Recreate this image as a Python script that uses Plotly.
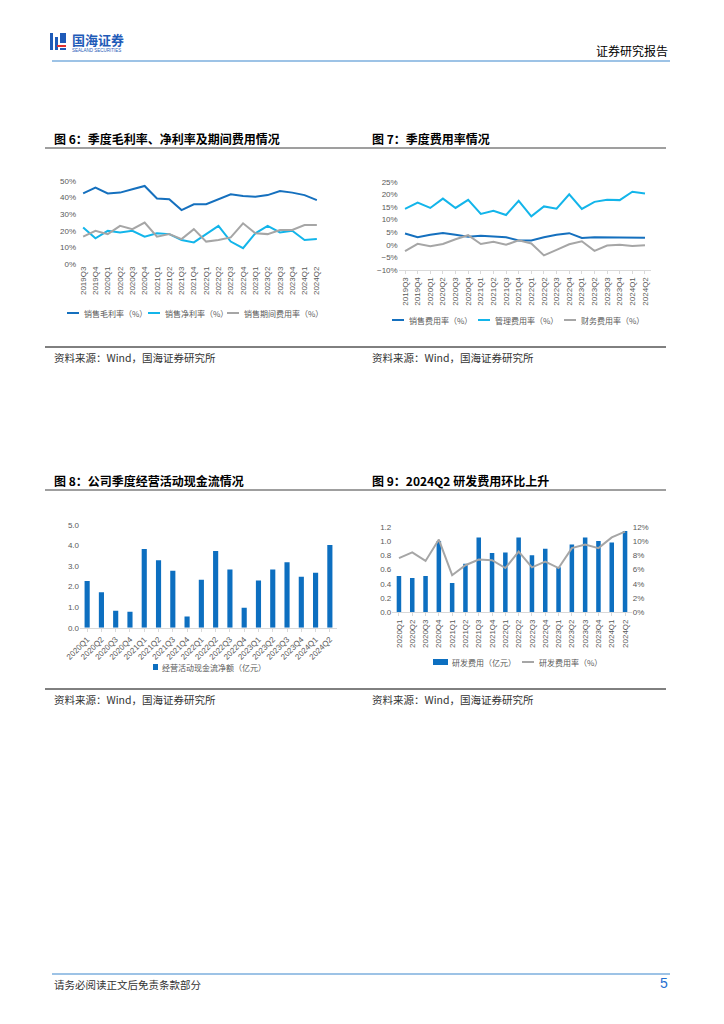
import plotly.graph_objects as go

W, H = 724, 1024

# ---------------- data ----------------
q_6_7 = ["2019Q3", "2019Q4", "2020Q1", "2020Q2", "2020Q3", "2020Q4", "2021Q1", "2021Q2",
         "2021Q3", "2021Q4", "2022Q1", "2022Q2", "2022Q3", "2022Q4", "2023Q1", "2023Q2",
         "2023Q3", "2023Q4", "2024Q1", "2024Q2"]
gross_margin = [42.5, 46, 42.5, 43, 45, 47, 39.5, 39, 32.5, 36, 36, 39, 42, 41, 40.5, 41.5, 44, 43, 41.5, 38.5]
net_margin = [22, 15.5, 20, 19, 20, 16.5, 18.5, 18, 14.5, 13, 18, 23, 13.5, 9.5, 18.5, 23, 19, 20, 14.5, 15]
period_exp = [16.5, 20, 18, 23, 21, 25, 16.5, 18, 15, 21, 13.5, 14.5, 16, 24.5, 18.5, 18, 20.5, 20.5, 23.5, 23.5]

sell_exp = [4.5, 3, 4, 4.7, 4, 3.2, 3.6, 3.4, 3, 1.7, 1.7, 3, 4, 4.6, 2.7, 3, 3, 3, 3, 2.8]
admin_exp = [14.2, 16.7, 14.6, 18.3, 14.6, 17.8, 12.2, 13.5, 11.8, 17.4, 11.3, 15.2, 14.3, 20, 14.2, 17, 17.8, 17.7, 21, 20.3]
fin_exp = [-2.5, 0.4, -0.6, 0.3, 2.2, 3.8, 0.3, 1.2, 0, 1.8, 0.5, -4.2, -2, 0.2, 1.4, -2.4, -0.3, 0, -0.5, -0.2]

q_8_9 = ["2020Q1", "2020Q2", "2020Q3", "2020Q4", "2021Q1", "2021Q2", "2021Q3", "2021Q4",
         "2022Q1", "2022Q2", "2022Q3", "2022Q4", "2023Q1", "2023Q2", "2023Q3", "2023Q4",
         "2024Q1", "2024Q2"]
op_cash = [2.27, 1.72, 0.82, 0.78, 3.83, 3.28, 2.77, 0.55, 2.33, 3.74, 2.83, 0.97, 2.30, 2.83, 3.19, 2.48, 2.67, 4.03]
rd_exp = [0.51, 0.48, 0.51, 1.0, 0.41, 0.68, 1.05, 0.83, 0.84, 1.05, 0.80, 0.89, 0.63, 0.95, 1.05, 1.0, 0.98, 1.14]
rd_rate = [7.6, 8.4, 7.2, 10.2, 5.2, 6.6, 7.4, 7.3, 6.2, 8.5, 6.3, 7.1, 6.2, 9.0, 9.5, 9.0, 10.5, 11.3]

# ---------------- style ----------------
DARK = "#1570BE"
LIGHT = "#13B5EA"
GRAY = "#A6A6A6"
BAR = "#0D6FC0"
TICK = "#595959"
CJK = "Noto Sans CJK SC"
LAT = "Liberation Sans, Arial, sans-serif"


def px(x):
    return x / W


def py(y):
    return 1 - y / H


fig = go.Figure()

# chart 6
fig.add_trace(go.Scatter(x=q_6_7, y=gross_margin, mode="lines", line=dict(color=DARK, width=2),
                         name="销售毛利率（%）", xaxis="x", yaxis="y", showlegend=False))
fig.add_trace(go.Scatter(x=q_6_7, y=net_margin, mode="lines", line=dict(color=LIGHT, width=2),
                         name="销售净利率（%）", xaxis="x", yaxis="y", showlegend=False))
fig.add_trace(go.Scatter(x=q_6_7, y=period_exp, mode="lines", line=dict(color=GRAY, width=2),
                         name="销售期间费用率（%）", xaxis="x", yaxis="y", showlegend=False))
# chart 7
fig.add_trace(go.Scatter(x=q_6_7, y=sell_exp, mode="lines", line=dict(color=DARK, width=2),
                         name="销售费用率（%）", xaxis="x2", yaxis="y2", showlegend=False))
fig.add_trace(go.Scatter(x=q_6_7, y=admin_exp, mode="lines", line=dict(color=LIGHT, width=2),
                         name="管理费用率（%）", xaxis="x2", yaxis="y2", showlegend=False))
fig.add_trace(go.Scatter(x=q_6_7, y=fin_exp, mode="lines", line=dict(color=GRAY, width=2),
                         name="财务费用率（%）", xaxis="x2", yaxis="y2", showlegend=False))
# chart 8
fig.add_trace(go.Bar(x=q_8_9, y=op_cash, marker=dict(color=BAR, line=dict(width=0)), width=0.36,
                     name="经营活动现金流净额（亿元）", xaxis="x3", yaxis="y3", showlegend=False))
# chart 9
fig.add_trace(go.Bar(x=q_8_9, y=rd_exp, marker=dict(color=BAR, line=dict(width=0)), width=0.34,
                     name="研发费用（亿元）", xaxis="x4", yaxis="y4", showlegend=False))
fig.add_trace(go.Scatter(x=q_8_9, y=rd_rate, mode="lines", line=dict(color=GRAY, width=2),
                         name="研发费用率（%）", xaxis="x4", yaxis="y5", showlegend=False))

tickfont = dict(family=LAT, size=8, color=TICK)

n1 = len(q_6_7)
n2 = len(q_8_9)

common = dict(automargin=False, showgrid=False, zeroline=False, fixedrange=True)

fig.update_layout(
    width=W, height=H,
    margin=dict(l=0, r=0, t=0, b=0, pad=0, autoexpand=False),
    paper_bgcolor="white", plot_bgcolor="white",
    xaxis=dict(domain=[px(77), px(323)], anchor="y", type="category", range=[-0.5, n1 - 0.5],
               tickangle=-90, tickfont=tickfont, showline=False, ticks="", **common),
    yaxis=dict(domain=[py(264), py(181)], anchor="x", range=[0, 50], dtick=10, ticksuffix="%",
               tickfont=tickfont, showline=False, **common),
    xaxis2=dict(domain=[px(398.7), px(651.3)], anchor="y2", type="category", range=[-0.5, n1 - 0.5],
                tickangle=-90, tickfont=tickfont, showline=True, linecolor="#D9D9D9",
                linewidth=1, ticks="outside", ticklen=3, tickcolor="#D9D9D9", **common),
    yaxis2=dict(domain=[py(270), py(181.7)], anchor="x2", range=[-10, 25], dtick=5, ticksuffix="%",
                tickfont=tickfont, showline=False, **common),
    xaxis3=dict(domain=[px(80), px(337)], anchor="y3", type="category", range=[-0.5, n2 - 0.5],
                tickangle=-45, tickfont=tickfont, showline=True, linecolor="#D9D9D9",
                linewidth=1, ticks="outside", ticklen=3, tickcolor="#D9D9D9", **common),
    yaxis3=dict(domain=[py(627.7), py(525)], anchor="x3", range=[0, 5], dtick=1, tickformat=".1f",
                tickfont=tickfont, showline=False, **common),
    xaxis4=dict(domain=[px(392.3), px(631.7)], anchor="y4", type="category", range=[-0.5, n2 - 0.5],
                tickangle=-90, tickfont=tickfont, showline=True, linecolor="#D9D9D9",
                linewidth=1, ticks="outside", ticklen=3, tickcolor="#D9D9D9", **common),
    yaxis4=dict(domain=[py(612.3), py(526.7)], anchor="x4", range=[0, 1.2], dtick=0.2, tickformat=".1f",
                tickfont=tickfont, showline=False, **common),
    yaxis5=dict(overlaying="y4", anchor="x4", side="right", range=[0, 12], dtick=2, ticksuffix="%",
                tickfont=tickfont, showline=False, **common),
)

shapes = []
annotations = []


def hline(x0, x1, y, color, width):
    shapes.append(dict(type="line", xref="paper", yref="paper", x0=px(x0), x1=px(x1), y0=py(y), y1=py(y),
                       line=dict(color=color, width=width)))


def text(x, y, s, size, color="#000000", bold=False, xanchor="left", family=CJK):
    annotations.append(dict(x=px(x), y=py(y), xref="paper", yref="paper", text=("<b>%s</b>" % s) if bold else s,
                            showarrow=False, xanchor=xanchor, yanchor="middle",
                            font=dict(family=family, size=size, color=color)))


def legend_line(x0, y, color, label):
    shapes.append(dict(type="line", xref="paper", yref="paper", x0=px(x0), x1=px(x0 + 12), y0=py(y), y1=py(y),
                       line=dict(color=color, width=2)))
    text(x0 + 15, y, label, 8, TICK)


def legend_box(x0, y, w, color, label):
    shapes.append(dict(type="rect", xref="paper", yref="paper", x0=px(x0), x1=px(x0 + w), y0=py(y + 3),
                       y1=py(y - 3), line=dict(width=0), fillcolor=color))
    text(x0 + w + 2, y, label, 8, TICK)


# header
hline(52, 670, 61, "#9DC3E6", 2)
text(670, 50, "证券研究报告", 12, "#000000", xanchor="right")
# logo
for (x0, y0, x1, y1, c) in [(50, 33, 53, 50, "#1F5BB8"), (55, 37, 58, 50, "#1F5BB8"),
                            (60, 33, 66, 43, "#1F5BB8"), (57, 45, 66, 47, "#E03030"),
                            (60, 48, 66, 50, "#1F5BB8")]:
    shapes.append(dict(type="rect", xref="paper", yref="paper", x0=px(x0), x1=px(x1), y0=py(y1), y1=py(y0),
                       line=dict(width=0), fillcolor=c))
text(70, 39, "国海证券", 13, "#1F5BB8", bold=True)
text(70, 50, "SEALAND SECURITIES", 4.5, "#1F5BB8", family=LAT)

# section titles and rules
text(52, 138, "图 6：季度毛利率、净利率及期间费用情况", 12, bold=True)
text(370, 138, "图 7：季度费用率情况", 12, bold=True)
hline(45, 666, 148, "#7F7F7F", 1.5)
hline(45, 666, 347, "#000000", 1)
text(52, 357, "资料来源：Wind，国海证券研究所", 10.5, "#333333")
text(370, 357, "资料来源：Wind，国海证券研究所", 10.5, "#333333")

text(52, 480, "图 8：公司季度经营活动现金流情况", 12, bold=True)
text(370, 480, "图 9：2024Q2 研发费用环比上升", 12, bold=True)
hline(45, 666, 490, "#7F7F7F", 1.5)
hline(45, 666, 689, "#000000", 1)
text(52, 699, "资料来源：Wind，国海证券研究所", 10.5, "#333333")
text(370, 699, "资料来源：Wind，国海证券研究所", 10.5, "#333333")

# legends
legend_line(67, 313, DARK, "销售毛利率（%）")
legend_line(148, 313, LIGHT, "销售净利率（%）")
legend_line(227, 313, GRAY, "销售期间费用率（%）")
legend_line(392, 320, DARK, "销售费用率（%）")
legend_line(478, 320, LIGHT, "管理费用率（%）")
legend_line(564, 320, GRAY, "财务费用率（%）")
legend_box(153, 667, 5, BAR, "经营活动现金流净额（亿元）")
legend_box(433, 662, 15, BAR, "研发费用（亿元）")
legend_line(522, 662, GRAY, "研发费用率（%）")

# footer
hline(52, 670, 974, "#9DC3E6", 2)
text(52, 984, "请务必阅读正文后免责条款部分", 10.5, "#333333")
text(670, 983, "5", 14, "#1F6FD0", xanchor="right", family=LAT)

fig.update_layout(shapes=shapes, annotations=annotations)
fig.write_html("out.html", config={"displayModeBar": False, "staticPlot": True},
               post_script="document.body.style.margin='0px';document.body.style.padding='0px';")
